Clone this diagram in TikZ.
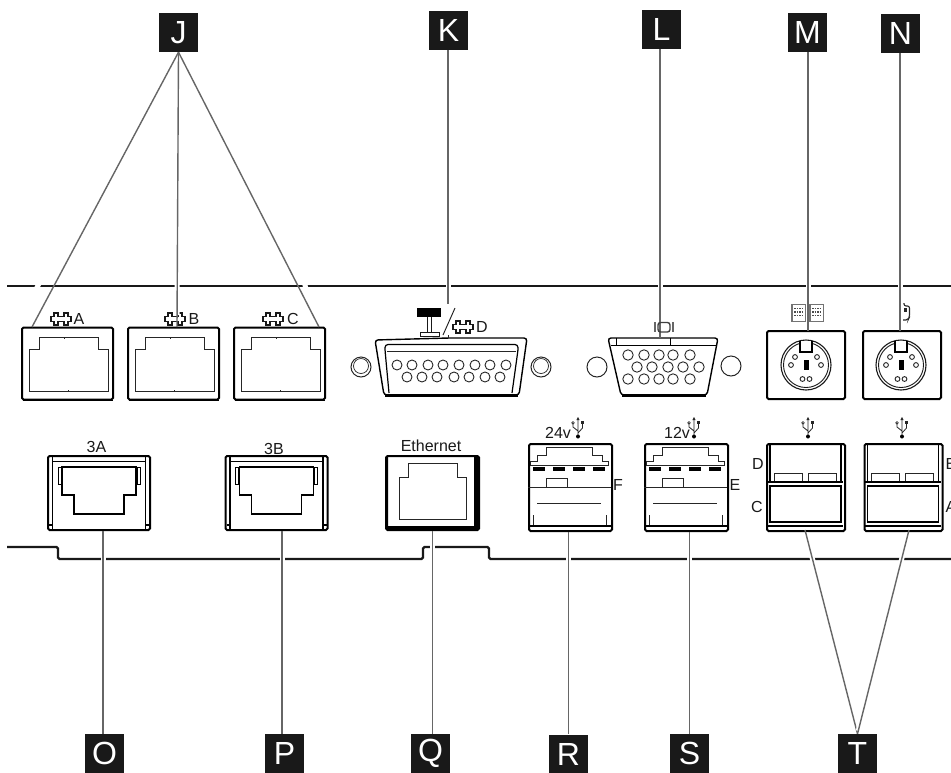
\documentclass[tikz,border=0pt]{standalone}
\usepackage{fontspec}
\setmainfont{Liberation Sans}

\begin{document}
\begin{tikzpicture}[x=1pt,y=-1pt,
	letter_node/.style={fill=black!90,text=white,minimum size=39pt,inner sep=0pt,font=\fontsize{32}{32}\selectfont},
	small_text/.style={inner sep=0pt,text=black!90,font=\fontsize{16}{16}\selectfont},
	port_box/.style={draw,line width=2pt,rounded corners=1.5pt,inner sep=0pt,fill=white},
	outline/.style={draw=black!85,line width=0.9pt},
	panel_line/.style={line width=2.2pt,black!90},
	leader/.style={black!60,line width=1.4pt,preaction={draw,white,line width=5pt,shorten >=3pt,shorten <=3pt}},
	pin/.style={draw=black!85,line width=0.9pt,fill=white},
	screw/.style={inner sep=0pt,minimum size=20pt,circle,draw=black!85,line width=1pt},
	serial_icon/.pic={
		\draw[black!90,line width=1.1pt] (-10,-2.5) -- (-7,-2.5) -- (-7,-6) -- (-3,-6) -- (-3,-2.5) -- (3,-2.5) -- (3,-6) -- (7,-6) -- (7,-2.5) -- (10,-2.5) -- (10,2.5) -- (7,2.5) -- (7,6) -- (3,6) -- (3,2.5) -- (-3,2.5) -- (-3,6) -- (-7,6) -- (-7,2.5) -- (-10,2.5) -- cycle;
	},
	usb_icon/.pic={
		\draw[black!85,line width=0.8pt] (0,1) -- (0,18) (0,13) -- (-5,9) -- (-5,6) (0,15) -- (4.5,10) -- (4.5,6);
		\fill[black!85] (0,-1) -- (-1.6,2) -- (1.6,2) -- cycle;
		\fill[black] (0,18.5) circle (2);
		\draw[black!85,line width=0.7pt] (-5,4.8) circle (1.3);
		\fill[black!85] (3,3) rectangle (6,6);
	},
	minidin/.pic={
		\draw[black!90,line width=1.1pt] (0,0) circle (25);
		\draw[black!90,line width=0.9pt] (0,0) circle (22.5);
		\draw[fill=white,line width=1.1pt] (-6,-24) -- (-6,-13) -- (6,-13) -- (6,-24);
		\fill[black] (-2.5,-5) rectangle (2.5,5);
		\foreach \pinx/\piny in {-11/-8,-15/0,11/-8,15/0,-3.5/14,3.5/14} {
			\draw[pin] (\pinx,\piny) circle (2.4);
		}
	}]
	\useasboundingbox (0,0) rectangle (951,772);
	% letters
	\node[letter_node] (j) at (178.5,32.5) {J};
	\node[letter_node] (k) at (448.5,30.5) {K};
	\node[letter_node] (l) at (661.5,29.5) {L};
	\node[letter_node] (m) at (807.5,32.5) {M};
	\node[letter_node] (n) at (900.5,33.5) {N};
	\node[letter_node] (o) at (104.5,753.5) {O};
	\node[letter_node] (p) at (284.5,753.5) {P};
	\node[letter_node] (q) at (430.5,753.5) {Q};
	\node[letter_node] (r) at (568.5,754) {R};
	\node[letter_node] (s) at (689.5,753.5) {S};
	\node[letter_node] (t) at (857.5,753.5) {T};

	% panel edges
	\coordinate (top_left) at (7,286);
	\coordinate (top_right) at (951,286);
	\draw[panel_line] (top_left) -- (top_right);
	\draw[panel_line,rounded corners=1.5pt] (7,547) -- (58,547) -- (58,559) -- (423,559) -- (423,547) -- (489,547) -- (489,559) -- (951,559);

	% icons that the leaders cut through
	\foreach \iconx in {61,175,273} {
		\pic at (\iconx,319) {serial_icon};
	}

	% serial ports
	\foreach \boxname/\boxx/\boxlabel in {porta/67.5/A,portb/173.5/B,portc/279.5/C} {
		\node[port_box,minimum width=91pt,minimum height=72pt] (\boxname) at (\boxx,363.5) {};
		\draw[outline,shift={(\boxx,0)}] (-38.5,349) -- (-28.5,349) -- (-28.5,337) -- (30.5,337) -- (30.5,349) -- (40.5,349) -- (40.5,391) -- (-38.5,391) -- cycle;
		\draw[outline,shift={(\boxx,0)}] (-3.5,337) -- (-3.5,338.5) (0.5,391) -- (0.5,389.5);
		\draw[line width=1.8pt] (\boxx-45,400.5) -- (\boxx+45,400.5);
	}
	\node[small_text] (labela) at (79,319) {A};
	\node[small_text] (labelb) at (194,319) {B};
	\node[small_text] (labelc) at (293,319) {C};

	% d-shell connector with screws
	\node[screw] (screwa) at (361,367) {};
	\draw[black!85,line width=0.7pt] (361,366) circle (7.5);
	\node[screw] (screwb) at (541,367) {};
	\draw[black!85,line width=0.7pt] (541,366) circle (7.5);
	\draw[line width=1.4pt,rounded corners=3pt,fill=white] (375,340) -- (449,338) -- (527,338) -- (519,395) -- (384,395) -- cycle;
	\draw[line width=2.2pt] (385,395.5) -- (518,395.5);
	\draw[line width=1.2pt,rounded corners=3pt] (389,393) -- (385,350) -- (385,344.5) -- (518,344.5) -- (518,350) -- (512,393);
	\draw[black!85,line width=1pt] (387,351) -- (516,351);
	\draw[black!85,line width=1pt] (448,335) -- (448,338);
	\foreach \pinx in {397,412,428,443,459,475,490,506} {
		\draw[pin] (\pinx,365) circle (5);
	}
	\foreach \pinx in {407,422,437,454,469,485,500} {
		\draw[pin] (\pinx,377) circle (5);
	}
	% tool mark and port name
	\draw[black!90,fill=white,line width=0.9pt] (420,332) rectangle (439,336);
	\draw[black!90,line width=0.9pt] (427.5,317) -- (427.5,332) (431.5,317) -- (431.5,332);
	\fill[black] (417,308) rectangle (441,317);
	\draw[black!90,line width=0.9pt] (455,308) -- (443,335);
	\pic at (463,327) {serial_icon};
	\node[small_text] (labeld) at (482,327) {D};

	% video connector with screws
	\node[screw] (screwc) at (597,367) {};
	\node[screw] (screwd) at (731,366) {};
	\draw[line width=1.4pt,rounded corners=3pt,fill=white] (608,338) -- (718,338) -- (707,395) -- (621,395) -- cycle;
	\draw[line width=2.2pt] (622,395.5) -- (706,395.5);
	\draw[line width=1.2pt] (611,345.5) -- (716,345.5);
	\draw[line width=1pt] (616,338) -- (616,345) (670,338) -- (670,345);
	\foreach \pinx in {628,644,659,673,690} {
		\draw[pin] (\pinx,355) circle (5.2);
		\draw[pin] (\pinx,379) circle (5.2);
	}
	\foreach \pinx in {637,652,668,683,699} {
		\draw[pin] (\pinx,367) circle (5.2);
	}

	% keyboard and mouse sockets
	\node[port_box,minimum width=78pt,minimum height=68pt] (keyboard) at (806,365) {};
	\node[port_box,minimum width=78pt,minimum height=68pt] (mouse) at (902,365) {};
	\pic at (806,365) {minidin};
	\pic at (901,365) {minidin};

	% network sockets
	\foreach \boxname/\boxx/\boxlabel/\labely in {portd/99/3A/447,porte/276.5/3B/449} {
		\node[port_box,minimum width=102pt,minimum height=74pt] (\boxname) at (\boxx,493) {};
		\node[small_text] at (\boxx-2.5,\labely) {\boxlabel};
		\draw[line width=1.1pt,shift={(\boxx,0)}] (-46.5,457) -- (-46.5,529) (46.5,457) -- (46.5,529) (-46.5,461.5) -- (46.5,461.5);
		\draw[line width=1.5pt,shift={(\boxx,0)}] (-37,467) -- (37,467) -- (37,495) -- (25,495) -- (25,514) -- (-25,514) -- (-25,495) -- (-37,495) -- cycle;
		\draw[line width=1pt,shift={(\boxx,0)}] (-41,467) rectangle (-38,484) (38,467) rectangle (41,484);
		\draw[line width=2pt,shift={(\boxx,0)}] (-50,525) -- (-46,525) (46,525) -- (50,525);
	}
	\node[port_box,minimum width=93pt,minimum height=74pt] (ethernet) at (432.5,493) {};
	\node[small_text] at (431,446) {Ethernet};
	\draw[outline] (399,477) -- (408,477) -- (408,463) -- (457,463) -- (457,477) -- (466,477) -- (466,519) -- (399,519) -- cycle;
	\fill[black] (386,526) rectangle (479,530);
	\fill[black] (386,456) rectangle (388,530) (474,456) rectangle (479,530);

	% usb with power
	\foreach \boxname/\boxx/\boxlabel/\sidelabel/\iconx/\labelx/\sidex in {portf/528/24v/F/578/558/618,portg/644/12v/E/694/677/735} {
		\node[port_box,minimum width=83pt,minimum height=87pt,anchor=north west] (\boxname) at (\boxx,443) {};
		\begin{scope}[shift={(\boxx-528,0)}]
			\draw[outline] (530,465) -- (530,461) -- (537,461) -- (537,455) -- (546,455) -- (546,447) -- (592,447) -- (592,455) -- (602,455) -- (602,461) -- (608,461) -- (608,465) -- cycle;
			\foreach \dashx in {533,553,573,593} {
				\fill[black] (\dashx,467) rectangle ++(11.5,4);
			}
			\draw[outline] (546,487) -- (546,478) -- (567,478) -- (567,487);
			\draw[outline] (528,487) -- (611,487);
			\draw[outline] (537,503) -- (601,503);
			\draw[outline] (533,515) -- (533,525) (606,515) -- (606,525);
			\draw[line width=1.8pt] (528,526) -- (611,526);
		\end{scope}
		\node[small_text] at (\labelx,433) {\boxlabel};
		\node[small_text] at (\sidex,484.5) {\sidelabel};
		\pic at (\iconx,418) {usb_icon};
	}

	% usb stacks
	\foreach \boxname/\boxx/\iconx in {usbl/766/808,usbr/863.5/902} {
		\node[port_box,minimum width=78pt,minimum height=87pt,anchor=north west] (\boxname) at (\boxx,443) {};
		\begin{scope}[shift={(\boxx-766,0)}]
			\draw[line width=1.2pt] (770,444) -- (770,481) (841,444) -- (841,481);
			\draw[line width=2pt] (767,482) -- (843,482);
			\draw[line width=1.5pt] (770,486) rectangle (841,522);
			\draw[outline] (774,481) -- (774,473) -- (802,473) -- (802,481);
			\draw[outline] (808,481) -- (808,473) -- (836,473) -- (836,481);
			\draw[line width=1.2pt] (767,526) -- (843,526);
		\end{scope}
		\pic at (\iconx,418) {usb_icon};
	}
	\node[small_text] (labelusbd) at (758,464) {D};
	\node[small_text] (labelusbc) at (757,507) {C};
	\node[small_text] (labelusbb) at (951,464) {B};
	\node[small_text] (labelusba) at (951,507) {A};

	% leaders
	\coordinate (j_a) at (32,327);
	\coordinate (j_b) at (177,327);
	\coordinate (j_c) at (319,327);
	\coordinate (k_end) at (448,304);
	\coordinate (l_end) at (660,338);
	\coordinate (m_end) at (808,331);
	\coordinate (n_end) at (900,331);
	\coordinate (t_left) at (805,530);
	\coordinate (t_right) at (909,530);
	\draw[white,line width=5pt] (46,270) -- (28,305) (177,270) -- (177,315) (301,270) -- (313,315);
	\foreach \leaderend in {j_a,j_b,j_c} {
		\draw[black!60,line width=1.4pt] (j.south) -- (\leaderend);
	}
	\draw[leader] (k.south -| k_end) -- (k_end);
	\draw[leader] (l.south -| l_end) -- (l_end);
	\draw[leader] (m.south -| m_end) -- (m_end);
	\draw[leader] (n.south -| n_end) -- (n_end);
	\draw[leader] (portd.south -| 103,0) -- (103,734);
	\draw[leader] (porte.south -| 282,0) -- (282,734);
	\draw[leader] (ethernet.south) -- (ethernet.south |- q.north);
	\draw[leader] (portf.south -| r.north) -- (r.north);
	\draw[leader] (portg.south -| s.north) -- (s.north);
	\draw[leader] (t_left) -- (t.north);
	\draw[leader] (t_right) -- (t.north);

	% icons that sit on the leaders
	\draw[black!60,line width=1.2pt] (655,322) -- (655,332) (673,322) -- (673,332);
	\draw[black!75,line width=1.4pt,rounded corners=2.5pt] (658,322.5) rectangle (670,332);
	\foreach \keyx in {792,810} {
		\draw[black!55,line width=1.2pt] (\keyx,304.5) rectangle ++(13.5,17);
		\foreach \i in {0,1,2} {
			\draw[black!70,line width=1.3pt,dash pattern=on 1.5pt off 1pt] (\keyx+2,308.5+3.5*\i) -- ++(9.5,0);
		}
	}
	\draw[black!85,line width=1.1pt,rounded corners=2pt] (903,320) -- (908,320) -- (909.5,317) -- (909.5,306) -- (904,306) -- (904,303);
	\fill[black!85] (904,308) rectangle (907,312);
\end{tikzpicture}
\end{document}
